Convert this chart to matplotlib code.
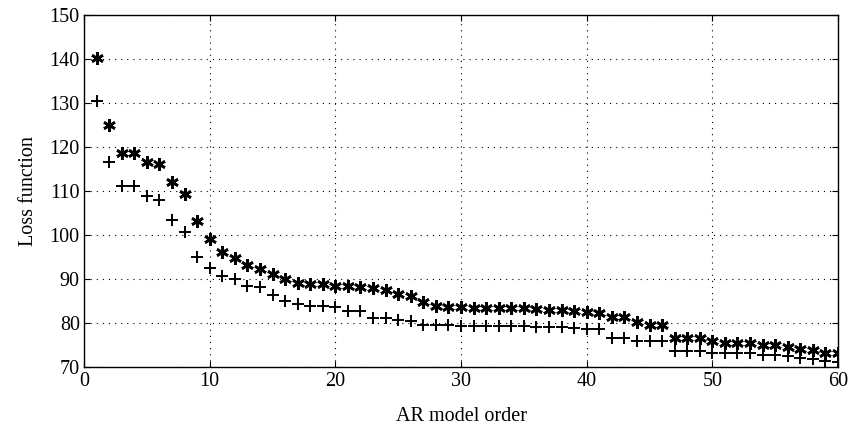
import matplotlib
matplotlib.use("Agg")
import matplotlib.pyplot as plt
import numpy as np

orders = list(range(1, 61))

loss_star = [140.2, 125.0, 118.6, 118.6, 116.4, 116.0, 111.9, 109.3, 103.0, 98.9,
             96.1, 94.6, 93.0, 92.2, 91.1, 90.0, 88.9, 88.8, 88.8, 88.4,
             88.3, 88.1, 87.9, 87.5, 86.4, 86.1, 84.6, 83.7, 83.6, 83.5,
             83.3, 83.2, 83.2, 83.2, 83.2, 83.0, 82.9, 82.9, 82.7, 82.5,
             82.2, 81.3, 81.3, 80.1, 79.4, 79.4, 76.5, 76.5, 76.5, 75.8,
             75.4, 75.4, 75.4, 74.8, 74.8, 74.5, 74.0, 73.7, 73.1, 73.1]

loss_plus = [130.3, 116.5, 111.1, 111.1, 108.7, 107.8, 103.3, 100.5, 94.9, 92.5,
             90.5, 89.8, 88.4, 88.1, 86.3, 84.8, 84.1, 83.7, 83.7, 83.5,
             82.7, 82.6, 81.1, 81.1, 80.6, 80.3, 79.4, 79.4, 79.4, 79.3,
             79.2, 79.1, 79.1, 79.1, 79.1, 79.0, 78.9, 78.9, 78.8, 78.6,
             78.5, 76.5, 76.5, 75.9, 75.8, 75.7, 73.5, 73.5, 73.5, 73.1,
             73.0, 73.0, 73.0, 72.6, 72.6, 72.4, 72.0, 71.7, 71.2, 71.0]

xticks = [0, 10, 20, 30, 40, 50, 60]
yticks = [70, 80, 90, 100, 110, 120, 130, 140, 150]

plt.rcParams['font.family'] = ['Liberation Serif', 'DejaVu Serif']

fig = plt.figure(figsize=(8.49, 4.31), dpi=100)
ax = fig.add_axes([84/849, 1-367.5/431, (838-84)/849, (367.5-15.5)/431])

ax.plot(orders, loss_star, linestyle='none', marker=(6, 2, 0), markersize=9,
        markeredgewidth=1.9, color='black')
ax.plot(orders, loss_plus, linestyle='none', marker='+', markersize=8,
        markeredgewidth=1.4, color='black')

ax.set_xlim(0, 60)
ax.set_ylim(70, 150)
ax.set_xticks(xticks)
ax.set_yticks(yticks)
ax.tick_params(direction='in', labelsize=14.5, length=4, width=0.8, color='black',
               top=True, right=True, pad=3)
ax.grid(True, color='black', linestyle=(0, (1, 4.5)), linewidth=0.8)
for s in ax.spines.values():
    s.set_linewidth(1.0)

ax.set_xlabel('AR model order', fontsize=14.5, labelpad=12)
ax.set_ylabel('Loss function', fontsize=14.5, labelpad=8)

fig.savefig('out.png', dpi=100)
